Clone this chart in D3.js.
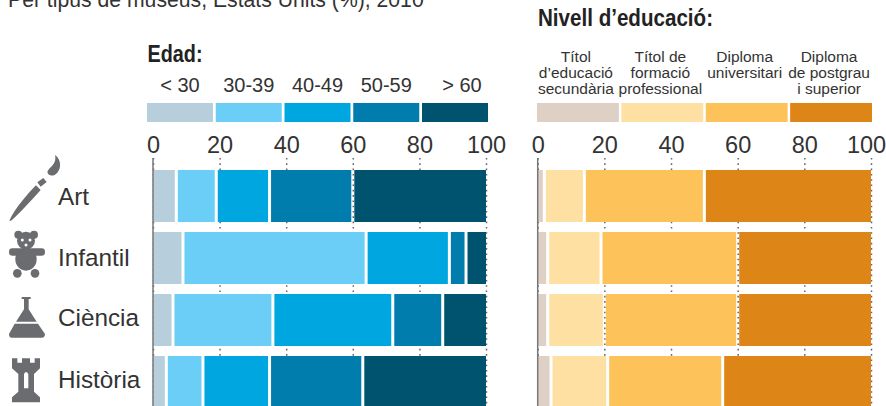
<!DOCTYPE html>
<html>
<head>
<meta charset="utf-8">
<script src="https://cdn.jsdelivr.net/npm/d3@7"></script>
<style>
  html, body { margin: 0; padding: 0; background: #fff; overflow: hidden; }
  text { font-family: "Liberation Sans", sans-serif; fill: #333; }
  .title { font-weight: bold; fill: #222; }
</style>
</head>
<body>
<div id="chart-area"></div>
<script>
// museum types
const museums = ["Art", "Infantil", "Ciència", "Història"];

// age groups, one value per museum
const ageGroups = ["< 30", "30-39", "40-49", "50-59", "> 60"];
const ageUnder30 = [7, 9, 6, 4];
const age30to39 = [12, 55, 30, 11];
const age40to49 = [16, 25, 36, 20];
const age50to59 = [25, 5, 15, 28];
const ageOver60 = [40, 6, 13, 37];
const ageColors = ["#b7cfdc", "#6bcef6", "#00a6df", "#007dad", "#00536f"];

// education levels
const eduGroups = [
    ["Títol", "d’educació", "secundària"],
    ["Títol de", "formació", "professional"],
    ["Diploma", "universitari"],
    ["Diploma", "de postgrau", "i superior"]
];
const eduSecondary = [2, 3, 3, 4];
const eduProfessional = [12, 16, 17, 17];
const eduUniversity = [36, 41, 40, 34.5];
const eduPostgrad = [50, 40, 40, 44.5];
const eduColors = ["#dfd0c6", "#ffe0a3", "#fdc35a", "#de8518"];

const ticks = [0, 20, 40, 60, 80, 100];

const svg = d3.select("#chart-area")
    .append("svg")
    .attr("width", 886)
    .attr("height", 406);

// subtitle, cut off at the top like in the original
svg.append("text")
    .attr("x", 8).attr("y", 7)
    .style("font-size", "21.2px")
    .text("Per tipus de museus, Estats Units (%), 2010");

// 52px bars with a 10px gap, the last one runs off the bottom
const y = d3.scaleBand()
    .domain(museums)
    .range([170, 408])
    .paddingInner(10 / 62)
    .paddingOuter(0);

function drawPanel(opts) {
    const x = d3.scaleLinear().domain([0, 100]).range(opts.range);
    const keys = opts.series.map((s, i) => i);

    // axis with the dotted grid lines behind the bars
    const axis = svg.append("g")
        .attr("transform", "translate(0,158)")
        .call(d3.axisTop(x).tickValues(ticks).tickSizeInner(-248).tickSizeOuter(0).tickPadding(5));
    axis.select(".domain").remove();
    axis.selectAll("text")
        .style("font-size", "23.5px")
        .attr("fill", null)
        .attr("dx", d => d === 100 ? opts.lastTickShift : 0);
    axis.selectAll("line")
        .attr("stroke", "#666")
        .attr("stroke-width", 1.5)
        .attr("stroke-dasharray", "1.6 3.7");

    // stacked bars
    const rows = museums.map((m, r) => {
        const row = {museum: m};
        keys.forEach(k => { row[k] = opts.series[k][r]; });
        return row;
    });
    const stacked = d3.stack().keys(keys)(rows);
    const gap = 1.5;

    svg.append("g").selectAll("g")
        .data(stacked)
        .join("g")
        .attr("fill", d => opts.colors[d.key])
        .selectAll("rect")
        .data(d => d.map(v => ({v: v, key: d.key})))
        .join("rect")
        .attr("x", d => x(d.v[0]) + (d.key === 0 ? 0 : gap))
        .attr("y", d => y(d.v.data.museum))
        .attr("width", d => x(d.v[1]) - x(d.v[0]) - (d.key === 0 || d.key === keys.length - 1 ? gap : 2 * gap))
        .attr("height", y.bandwidth());

    // zero line on top of the bars
    svg.append("line")
        .attr("x1", x(0)).attr("x2", x(0))
        .attr("y1", 158).attr("y2", 406)
        .attr("stroke", "#777")
        .attr("stroke-width", 1.5);

    // legend swatches
    const legend = d3.scaleBand()
        .domain(keys)
        .range(opts.legendRange)
        .paddingInner(opts.legendPad);
    svg.append("g").selectAll("rect")
        .data(keys)
        .join("rect")
        .attr("x", k => legend(k))
        .attr("y", 103)
        .attr("width", legend.bandwidth())
        .attr("height", 19)
        .attr("fill", k => opts.colors[k]);

    return legend;
}

const ageLegend = drawPanel({
    range: [153, 486],
    legendRange: [147, 488],
    legendPad: 0.04,
    series: [ageUnder30, age30to39, age40to49, age50to59, ageOver60],
    colors: ageColors,
    lastTickShift: 0
});

const eduLegend = drawPanel({
    range: [537.7, 871],
    legendRange: [537, 872],
    legendPad: 0.03,
    series: [eduSecondary, eduProfessional, eduUniversity, eduPostgrad],
    colors: eduColors,
    lastTickShift: -5
});

// legend labels
svg.append("g").selectAll("text")
    .data(ageGroups)
    .join("text")
    .attr("x", (d, i) => ageLegend(i) + ageLegend.bandwidth() / 2 + (i === 4 ? 7 : 0))
    .attr("y", 91.5)
    .attr("text-anchor", "middle")
    .style("font-size", "20px")
    .text(d => d);

svg.append("g").selectAll("text")
    .data(eduGroups)
    .join("text")
    .attr("text-anchor", "middle")
    .style("font-size", "15.5px")
    .each(function (lines, i) {
        const cx = eduLegend(i) + eduLegend.bandwidth() / 2 - 2;
        d3.select(this).selectAll("tspan")
            .data(lines)
            .join("tspan")
            .attr("x", cx)
            .attr("y", (d, j) => 61.7 + j * 16.1)
            .text(d => d);
    });

// panel titles, squeezed because the original face is condensed
svg.append("text").attr("class", "title")
    .attr("x", 147.5).attr("y", 62)
    .attr("textLength", 55).attr("lengthAdjust", "spacingAndGlyphs")
    .style("font-size", "24px")
    .text("Edad:");
svg.append("text").attr("class", "title")
    .attr("x", 538).attr("y", 26)
    .attr("textLength", 175).attr("lengthAdjust", "spacingAndGlyphs")
    .style("font-size", "24px")
    .text("Nivell d’educació:");

// museum names
const baselines = [205, 266, 326, 388];
svg.append("g").selectAll("text")
    .data(museums)
    .join("text")
    .attr("x", 58)
    .attr("y", (d, i) => baselines[i])
    .style("font-size", "24.3px")
    .text(d => d);

// icons, traced at 3x so they stay readable
const icons = svg.append("g")
    .attr("transform", "translate(0,150) scale(0.3333)")
    .attr("fill", "#6b6c70");

// brush
icons.append("path").attr("d", "M28,212 C45,175 80,135 108,106 L122,120 C90,155 55,195 33,212 Z");
icons.append("path").attr("d", "M112,97 L130,84 L140,96 L122,110 Z");
icons.append("path").attr("d", "M142,66 C148,50 172,42 165,15 C186,30 185,62 165,74 C155,80 144,76 142,66 Z");

// teddy
icons.append("circle").attr("cx", 55).attr("cy", 254).attr("r", 12);
icons.append("circle").attr("cx", 102).attr("cy", 254).attr("r", 12);
icons.append("circle").attr("cx", 78).attr("cy", 272).attr("r", 27);
icons.append("rect").attr("x", 27).attr("y", 295).attr("width", 108).attr("height", 22).attr("rx", 10);
icons.append("ellipse").attr("cx", 78).attr("cy", 328).attr("rx", 32).attr("ry", 34);
icons.append("circle").attr("cx", 52).attr("cy", 370).attr("r", 13);
icons.append("circle").attr("cx", 105).attr("cy", 370).attr("r", 13);
icons.selectAll(".face")
    .data([[67, 270], [90, 270], [78, 285]])
    .join("circle")
    .attr("class", "face")
    .attr("cx", d => d[0]).attr("cy", d => d[1]).attr("r", 4.5)
    .attr("fill", "#fff");

// flask
icons.append("path").attr("d", "M65,441 L92,441 L92,447 L86,447 L86,478 L110,515 L48,515 L72,478 L72,447 L65,447 Z");
icons.append("path").attr("d", "M44,521 L114,521 L135,552 Q135,563 125,563 L35,563 Q27,563 27,552 Z");

// rook
icons.append("path").attr("d", "M36,625 L52,625 L52,638 L66,638 L66,625 L90,625 L90,638 L104,638 L104,625 L120,625 L120,655 L102,672 L102,725 L120,742 L120,757 L36,757 L36,742 L55,725 L55,672 L36,655 Z");
icons.append("path").attr("fill", "#fff").attr("d", "M72,715 L72,672 Q78,660 85,672 L85,715 Z");
</script>
</body>
</html>
